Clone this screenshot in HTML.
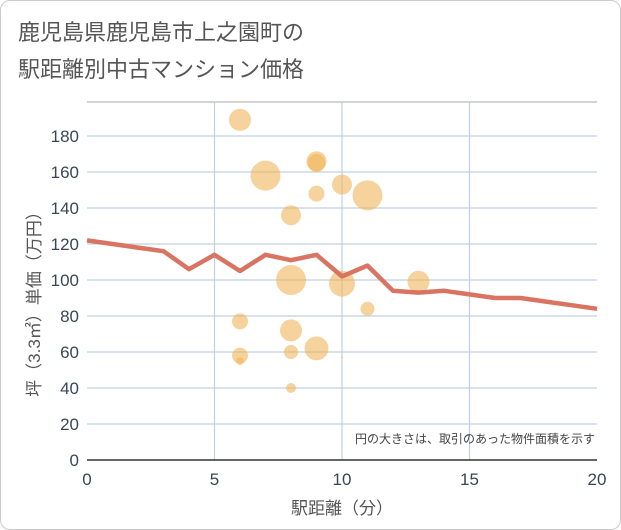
<!DOCTYPE html>
<html><head><meta charset="utf-8"><style>
body{margin:0;background:#fff;}
#wrap{width:619px;height:528px;border:1px solid #ccc;border-radius:10px;position:relative;overflow:hidden;font-family:"Liberation Sans","Noto Sans CJK JP",sans-serif;}
</style></head><body>
<div id="wrap">
<svg id="chart" width="621" height="530" style="position:absolute;left:-1px;top:-1px">
<text x="18" y="40" font-size="22" fill="#555" font-family="Liberation Sans, Noto Sans CJK JP, sans-serif">鹿児島県鹿児島市上之園町の</text>
<text x="18" y="77" font-size="22" fill="#555" font-family="Liberation Sans, Noto Sans CJK JP, sans-serif">駅距離別中古マンション価格</text>
<g id="grid"></g><g id="bubbles"></g><g id="line"></g><g id="axes"></g>
<text x="595" y="443" font-size="12" fill="#444" text-anchor="end" font-family="Liberation Sans, Noto Sans CJK JP, sans-serif">円の大きさは、取引のあった物件面積を示す</text>
<text x="342" y="514" font-size="17" fill="#555" text-anchor="middle" font-family="Liberation Sans, Noto Sans CJK JP, sans-serif">駅距離（分）</text>
<text transform="translate(40,300) rotate(-90)" font-size="17" fill="#555" text-anchor="middle" font-family="Liberation Sans, Noto Sans CJK JP, sans-serif">坪（3.3㎡）単価（万円）</text>
</svg>
</div>
<script>
const xTicks=[0,5,10,15,20];
const yTicks=[0,20,40,60,80,100,120,140,160,180];
const bubbleX=[6,7,9,9,10,11,8,9,8,10,13,11,6,8,9,6,8,6,8,10];
const bubbleY=[189,158,166,165,153,147,136,148,100,98,99,84,77,72,62,58,60,55,40,57];
const bubbleR=[11,15,10,9,10,15,10,8,15,13,11,7,8,11,12,8,7,4,5,1];
const lineX=[0,1,2,3,4,5,6,7,8,9,10,11,12,13,14,15,16,17,18,19,20];
const lineY=[122,120,118,116,106,114,105,114,111,114,102,108,94,93,94,92,90,90,88,86,84];
const NS="http://www.w3.org/2000/svg";
const X0=87,X1=597,Y0=460,Y1=136;
const sx=v=>X0+(X1-X0)*v/20, sy=v=>Y0-(Y0-Y1)*v/180;
function mk(t,a,p){const e=document.createElementNS(NS,t);for(const k in a)e.setAttribute(k,a[k]);p.appendChild(e);return e;}
const grid=document.getElementById('grid');
yTicks.forEach(v=>{if(v>0){const l=mk('line',{x1:X0,x2:X1,y1:sy(v),y2:sy(v),stroke:'#bfd0e2','stroke-width':1.2},grid);

}
const t=mk('text',{x:X0-8,y:sy(v)+6,'text-anchor':'end','font-size':17,fill:'#3a4656','font-family':'Liberation Sans, sans-serif'},grid);t.textContent=v;

});
mk('line',{x1:X0,x2:X1,y1:102,y2:102,stroke:'#aaa','stroke-width':1},grid);
xTicks.forEach(v=>{if(v>0&&v<20){const l=mk('line',{x1:sx(v),x2:sx(v),y1:102,y2:Y0,stroke:'#bfd0e2','stroke-width':1.2},grid);

}
const t=mk('text',{x:sx(v),y:Y0+25,'text-anchor':'middle','font-size':17,fill:'#3a4656','font-family':'Liberation Sans, sans-serif'},grid);t.textContent=v;

});
const bg=document.getElementById('bubbles');
bubbleX.forEach((x,i)=>{const c=mk('circle',{cx:sx(x),cy:sy(bubbleY[i]),r:bubbleR[i],fill:'#f0b65a','fill-opacity':0.6},bg);

});
const pl=mk('polyline',{points:lineX.map((x,i)=>sx(x)+','+sy(lineY[i])).join(' '),fill:'none',stroke:'#d87461','stroke-width':4.5,'stroke-linejoin':'round'},document.getElementById('line'));


const ax=document.getElementById('axes');
const xa=mk('line',{x1:X0,x2:X1,y1:Y0,y2:Y0,stroke:'#333','stroke-width':1.5},ax);


</script>
</body></html>
